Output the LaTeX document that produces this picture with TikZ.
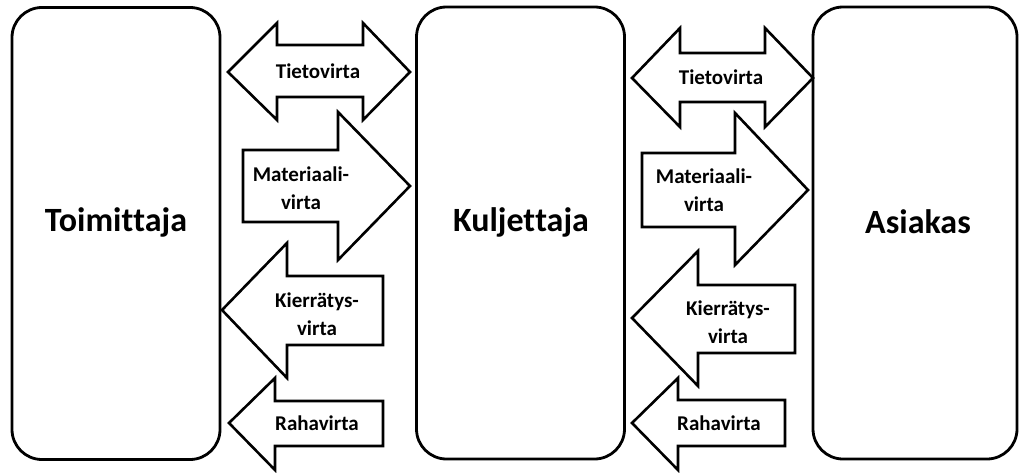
\documentclass[tikz,border=0pt]{standalone}
\usepackage{fontspec}
\setmainfont{Carlito}[Ligatures={NoCommon,NoContextual,NoRequired}]

\tikzset{
  party/.style={draw, line width=2.8pt, rounded corners=30pt, minimum width=208pt, minimum height=452pt, inner sep=0pt},
  partytext/.style={font=\fontsize{34}{40}\selectfont\bfseries, inner sep=0pt},
  flow/.style={draw, line width=2.6pt, line join=miter, fill=white},
  flowtext/.style={font=\fontsize{21}{28.5}\selectfont\bfseries, align=center, inner sep=0pt}
}

\begin{document}
\begin{tikzpicture}[x=1pt, y=-1pt]
  \useasboundingbox (0,0) rectangle (1019,473);

  % parties
  \node[party] (supplier) at (116,233.5) {};
  \node[party] (carrier) at (520.5,233) {};
  \node[party, minimum width=204pt] (customer) at (915,233) {};
  \node[partytext] (supplierlbl) at (116,222) {Toimit\kern0pt taja};
  \node[partytext] (carrierlbl) at (521,222) {Kuljet\kern0pt taja};
  \node[partytext] (customerlbl) at (918,222) {Asiakas};

  % flows between Toimittaja and Kuljettaja
  \draw[flow] (228,72) -- (277,23) -- (277,45) -- (363,45) -- (363,23) -- (410,72)
    -- (363,120) -- (363,97) -- (277,97) -- (277,120) -- cycle;
  \draw[flow] (243,150) -- (338,150) -- (338,112) -- (410,186) -- (338,260)
    -- (338,222) -- (243,222) -- cycle;
  \draw[flow] (222,310) -- (287,243) -- (287,276) -- (383,276) -- (383,345)
    -- (287,345) -- (287,378) -- cycle;
  \draw[flow] (229,423) -- (275,378) -- (275,401) -- (383,401) -- (383,446)
    -- (275,446) -- (275,470) -- cycle;
  \node[flowtext] (info1) at (318,71) {Tietovirta};
  \node[flowtext] (mat1) at (301,188) {Materiaali-\\virta};
  \node[flowtext] (recyc1) at (317,314) {Kierrätys-\\virta};
  \node[flowtext] (money1) at (317,423) {Rahavirta};

  % flows between Kuljettaja and Asiakas
  \draw[flow] (632,78) -- (680,28) -- (680,53) -- (765,53) -- (765,28) -- (813,78)
    -- (765,127) -- (765,102) -- (680,102) -- (680,127) -- cycle;
  \draw[flow] (642,153) -- (735,153) -- (735,113) -- (808,190) -- (735,265)
    -- (735,227) -- (642,227) -- cycle;
  \draw[flow] (632,318) -- (698,251) -- (698,285) -- (795,285) -- (795,353)
    -- (698,353) -- (698,386) -- cycle;
  \draw[flow] (632,423) -- (678,378) -- (678,400) -- (785,400) -- (785,446)
    -- (678,446) -- (678,470) -- cycle;
  \node[flowtext] (info2) at (721,77) {Tietovirta};
  \node[flowtext] (mat2) at (704,190) {Materiaali-\\virta};
  \node[flowtext] (recyc2) at (728,322) {Kierrätys-\\virta};
  \node[flowtext] (money2) at (719,423) {Rahavirta};
\end{tikzpicture}
\end{document}
